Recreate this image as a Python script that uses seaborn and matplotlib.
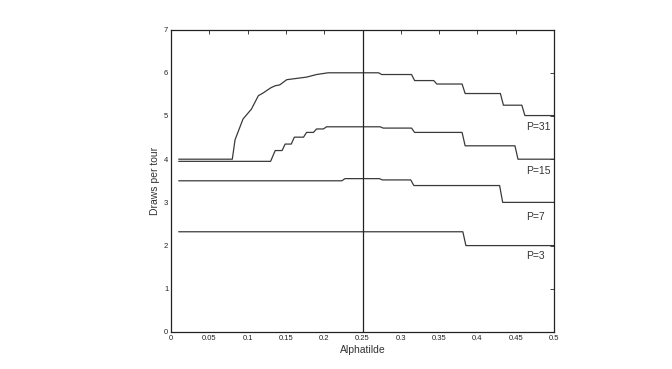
import matplotlib
matplotlib.use("Agg")
import matplotlib.pyplot as plt
import seaborn as sns
import pandas as pd

sns.set_theme(style="white")
plt.rcParams['font.family'] = ['Liberation Sans', 'DejaVu Sans']

p3_x = [0.01, 0.381, 0.385, 0.5]
p3_y = [2.32, 2.32, 2.00, 2.00]

p7_x = [0.01, 0.223, 0.227, 0.272, 0.276, 0.313, 0.317, 0.429, 0.433, 0.5]
p7_y = [3.50, 3.50, 3.55, 3.55, 3.52, 3.52, 3.39, 3.39, 3.00, 3.00]

p15_x = [0.01, 0.130, 0.136, 0.145, 0.149, 0.157, 0.161, 0.173, 0.177, 0.186,
         0.190, 0.199, 0.203, 0.273, 0.277, 0.314, 0.318, 0.380, 0.384, 0.449,
         0.453, 0.5]
p15_y = [3.95, 3.95, 4.20, 4.20, 4.35, 4.35, 4.51, 4.51, 4.62, 4.62,
         4.70, 4.70, 4.75, 4.75, 4.72, 4.72, 4.62, 4.62, 4.31, 4.31,
         4.00, 4.00]

p31_x = [0.01, 0.080, 0.0836, 0.094, 0.105, 0.114, 0.120, 0.130, 0.136, 0.142,
         0.151, 0.164, 0.177, 0.190, 0.205, 0.271, 0.275, 0.314, 0.318, 0.343,
         0.347, 0.380, 0.384, 0.430, 0.434, 0.458, 0.462, 0.5]
p31_y = [4.00, 4.00, 4.45, 4.93, 5.16, 5.47, 5.53, 5.65, 5.70, 5.72,
         5.84, 5.87, 5.90, 5.96, 6.00, 6.00, 5.96, 5.96, 5.82, 5.82,
         5.74, 5.74, 5.52, 5.52, 5.25, 5.25, 5.01, 5.01]

labels = ["P=31", "P=15", "P=7", "P=3"]
label_x = [0.479, 0.479, 0.476, 0.476]
label_y = [4.74, 3.73, 2.67, 1.75]

x_ticks = [0, 0.05, 0.1, 0.15, 0.2, 0.25, 0.3, 0.35, 0.4, 0.45, 0.5]
x_ticklabels = ["0", "0.05", "0.1", "0.15", "0.2", "0.25", "0.3", "0.35", "0.4", "0.45", "0.5"]
y_ticks = [0, 1, 2, 3, 4, 5, 6, 7]

rows = []
for name, xs, ys in [("P=3", p3_x, p3_y), ("P=7", p7_x, p7_y),
                     ("P=15", p15_x, p15_y), ("P=31", p31_x, p31_y)]:
    for i, (a, b) in enumerate(zip(xs, ys)):
        rows.append({"series": name, "order": i, "alpha": a, "draws": b})
df = pd.DataFrame(rows)

fig = plt.figure(figsize=(6.72, 3.69), dpi=100)
ax = fig.add_axes([0.2545, 0.1003, 0.5699, 0.8195])

sns.lineplot(data=df, x="alpha", y="draws", units="series", estimator=None,
             sort=False, color="#3a3a3a", linewidth=0.9, ax=ax)
ax.axvline(0.25, color="#222222", linewidth=0.9)

for t, lx, ly in zip(labels, label_x, label_y):
    ax.text(lx, ly, t, fontsize=7.5, color="#333333", ha="center", va="center")

ax.set_xlim(0, 0.5)
ax.set_ylim(0, 7)
ax.set_xticks(x_ticks)
ax.set_xticklabels(x_ticklabels)
ax.set_yticks(y_ticks)
ax.tick_params(direction="in", length=3, width=0.6, labelsize=5.5,
               top=True, right=True, colors="#222222", pad=2)
for sp in ax.spines.values():
    sp.set_color("#222222")
    sp.set_linewidth(0.9)
ax.set_xlabel("Alphatilde", fontsize=7.5, color="#333333", labelpad=2)
ax.set_ylabel("Draws per tour", fontsize=7.5, color="#333333", labelpad=3)
ax.grid(False)

fig.savefig("out.png", dpi=100)
